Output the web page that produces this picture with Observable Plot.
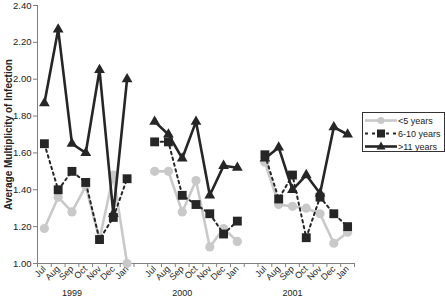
<!DOCTYPE html>
<html>
<head>
<meta charset="utf-8">
<script src="https://cdn.jsdelivr.net/npm/d3@7"></script>
<script src="https://cdn.jsdelivr.net/npm/@observablehq/plot@0.6"></script>
<style>
  html, body { margin: 0; padding: 0; background: #fff; }
  #wrap { position: relative; width: 445px; height: 297px; font-family: "Liberation Sans", Arial, sans-serif; }
  #legend { position: absolute; left: 362px; top: 112px; width: 81px; height: 38px; border: 1px solid #333; background: #fff; font-size: 9px; color: #222; }
  #legend .row { position: absolute; left: 0; height: 13px; display: flex; align-items: center; }
  #legend svg { display: block; }
</style>
</head>
<body>
<div id="wrap"></div>
<script>
// ---- data ----
const months = ["Jul", "Aug", "Sep", "Oct", "Nov", "Dec", "Jan"];
const years = ["1999", "2000", "2001"];
const seriesNames = ["<5 years", "6-10 years", ">11 years"];
const under5 =   [1.19, 1.36, 1.28, 1.42, 1.13, 1.48, 1.00,  1.50, 1.50, 1.28, 1.45, 1.09, 1.19, 1.12,  1.55, 1.32, 1.31, 1.30, 1.27, 1.11, 1.17];
const age6to10 = [1.65, 1.40, 1.50, 1.44, 1.13, 1.25, 1.46,  1.66, 1.66, 1.37, 1.32, 1.27, 1.16, 1.23,  1.59, 1.35, 1.48, 1.14, 1.36, 1.27, 1.20];
const over11 =   [1.87, 2.27, 1.65, 1.60, 2.05, 1.27, 2.00,  1.77, 1.70, 1.57, 1.77, 1.37, 1.53, 1.52,  1.57, 1.63, 1.40, 1.48, 1.38, 1.74, 1.70];
const yTicks = [1.00, 1.20, 1.40, 1.60, 1.80, 2.00, 2.20, 2.40];
const yTitle = "Average Multiplicity of Infection";

// ---- build table ----
const perYear = months.length + 1; // one empty slot between years
const nSlots = years.length * perYear - 1;
const rows = [];
[under5, age6to10, over11].forEach((vals, s) => {
  vals.forEach((v, i) => {
    const yi = Math.floor(i / months.length), mi = i % months.length;
    rows.push({series: seriesNames[s], year: years[yi], slot: yi * perYear + mi, value: v});
  });
});
const bySeries = name => rows.filter(d => d.series === name);
const boundaries = d3.range(-0.5, nSlots, 1);
const labelSlots = d3.range(nSlots).filter(s => s % perYear < months.length);
const yearLabels = years.map((y, i) => ({year: y, slot: i * perYear + (months.length - 1) / 2 - 1}));

const axisColor = "#7f7f7f";
const dark = "#262626";
const light = "#c9c9c9";

const chart = Plot.plot({
  width: 445,
  height: 297,
  marginLeft: 37,
  marginRight: 91,
  marginTop: 5,
  marginBottom: 34,
  style: {fontFamily: "'Liberation Sans', Arial, sans-serif", background: "transparent", overflow: "visible"},
  x: {type: "linear", domain: [-0.5, nSlots - 0.5], axis: null},
  y: {domain: [1.0, 2.4], axis: null},
  marks: [
    Plot.ruleX([-0.5], {stroke: axisColor, strokeWidth: 1}),
    Plot.ruleY([1.0], {stroke: axisColor, strokeWidth: 1}),
    Plot.axisY(yTicks, {tickSize: 4, tickPadding: 2, tickFormat: d3.format(".2f"), stroke: axisColor, fill: "#222", fontSize: 9.5, label: null}),
    Plot.axisX(boundaries, {tickSize: 4, tickFormat: () => "", stroke: axisColor, label: null}),
    Plot.axisX(labelSlots, {tickSize: 0, tickPadding: 4, tickRotate: -45, tickFormat: s => months[s % perYear], fill: "#222", fontSize: 9, label: null}),
    Plot.text(yearLabels, {x: "slot", text: "year", frameAnchor: "bottom", dy: 32, fill: "#222", fontSize: 9}),
    Plot.text([yTitle], {frameAnchor: "left", textAnchor: "middle", rotate: -90, dx: -29, fontWeight: "bold", fontSize: 10, fill: "#222"}),
    // <5 years
    Plot.line(bySeries(seriesNames[0]), {x: "slot", y: "value", z: "year", stroke: light, strokeWidth: 2.6}),
    Plot.dot(bySeries(seriesNames[0]), {x: "slot", y: "value", r: 4.6, fill: light, stroke: "none"}),
    // 6-10 years
    Plot.line(bySeries(seriesNames[1]), {x: "slot", y: "value", z: "year", stroke: dark, strokeWidth: 2, strokeDasharray: "2.5,3.5"}),
    Plot.dot(bySeries(seriesNames[1]), {x: "slot", y: "value", symbol: "square", r: 5, fill: dark, stroke: "none"}),
    // >11 years
    Plot.line(bySeries(seriesNames[2]), {x: "slot", y: "value", z: "year", stroke: dark, strokeWidth: 2.6}),
    Plot.dot(bySeries(seriesNames[2]), {x: "slot", y: "value", symbol: "triangle", r: 4, fill: dark, stroke: "none"})
  ]
});

const wrap = document.getElementById("wrap");
wrap.appendChild(chart);

// legend
const legend = document.createElement("div");
legend.id = "legend";
const samples = [
  `<line x1="2" y1="6.5" x2="34" y2="6.5" stroke="${light}" stroke-width="2.6"/><circle cx="18" cy="6.5" r="3.5" fill="${light}"/>`,
  `<line x1="2" y1="6.5" x2="34" y2="6.5" stroke="${dark}" stroke-width="2" stroke-dasharray="3,4"/><rect x="14" y="2.5" width="8" height="8" fill="${dark}"/>`,
  `<line x1="2" y1="6.5" x2="34" y2="6.5" stroke="${dark}" stroke-width="2.6"/><path d="M18,1.5 L22.5,9.5 L13.5,9.5 Z" fill="${dark}"/>`
];
seriesNames.forEach((name, i) => {
  const row = document.createElement("div");
  row.className = "row";
  row.style.top = (1 + i * 13) + "px";
  row.innerHTML = `<svg width="35" height="13">${samples[i]}</svg><span>${name}</span>`;
  legend.appendChild(row);
});
wrap.appendChild(legend);
</script>
</body>
</html>
